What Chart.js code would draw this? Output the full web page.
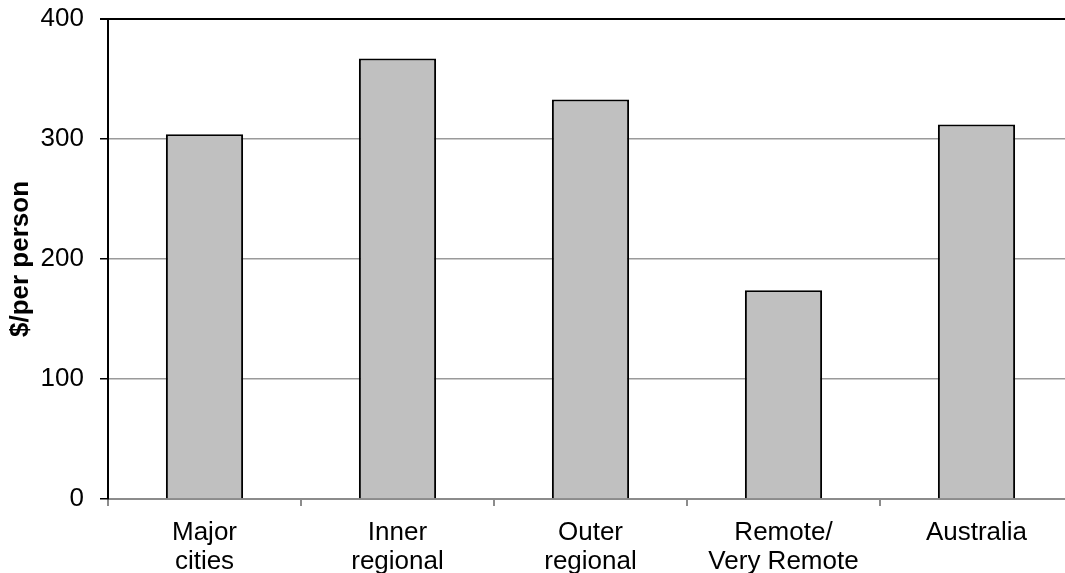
<!DOCTYPE html>
<html lang="en">
  <head>
    <meta charset="UTF-8" />
    <title>bar</title>
    <style>
      html, body { margin: 0; padding: 0; overflow: hidden; background: #fff; }
      .chart-view { width: 1073px; height: 573px; }
    </style>
  </head>
  <body>
    <div class="chart-view">
      <canvas id="chart" width="1073" height="573"></canvas>
    </div>

    <script src="https://cdn.jsdelivr.net/npm/chart.js@4.4.1/dist/chart.umd.min.js"></script>
    <script>
      //data
      const categories = [['Major', 'cities'], ['Inner', 'regional'], ['Outer', 'regional'], ['Remote/', 'Very Remote'], ['Australia']];
      const spendPerPerson = [304, 367, 333, 174, 312];
      const yTicks = [0, 100, 200, 300, 400];

      const font = { family: "'Liberation Sans', Arial, sans-serif", size: 26, lineHeight: 1.1 };

      //config
      const config = {
        type: 'bar',
        data: {
          labels: categories,
          datasets: [
            {
              label: '$/per person',
              data: spendPerPerson,
              backgroundColor: '#c0c0c0',
              borderColor: '#000',
              borderWidth: 2,
              barPercentage: 0.4,
              categoryPercentage: 1
            }
          ]
        },
        options: {
          responsive: false,
          animation: false,
          layout: { padding: { top: 19, right: 0, left: 0, bottom: 0 } },
          plugins: {
            legend: { display: false },
            tooltip: { enabled: false }
          },
          scales: {
            x: {
              grid: {
                offset: true,
                drawOnChartArea: false,
                color: '#8c8c8c',
                lineWidth: 2,
                tickLength: 7
              },
              border: { color: '#8c8c8c', width: 2 },
              ticks: { color: '#000', font: font, padding: 13, maxRotation: 0, autoSkip: false },
              afterFit: function (scale) {
                scale.height = 74;
                scale.paddingLeft = 0;
                scale.paddingRight = 0;
              }
            },
            y: {
              min: yTicks[0],
              max: yTicks[yTicks.length - 1],
              afterBuildTicks: function (scale) {
                scale.ticks = yTicks.map(function (v) { return { value: v }; });
              },
              grid: {
                color: function (ctx) { return ctx.tick && ctx.tick.value === 400 ? '#000' : '#9a9a9a'; },
                lineWidth: function (ctx) { return ctx.tick && ctx.tick.value === 400 ? 2 : 1.5; },
                tickColor: '#000',
                tickLength: 8
              },
              border: { color: '#000', width: 2 },
              ticks: { color: '#000', font: font, padding: 16 },
              title: {
                display: true,
                text: '$/per person',
                color: '#000',
                font: { family: "'Liberation Sans', Arial, sans-serif", size: 26, weight: 'bold' },
                padding: { top: 5, bottom: 0 }
              },
              afterFit: function (scale) {
                scale.width = 108;
                scale.paddingTop = 0;
                scale.paddingBottom = 0;
              }
            }
          }
        }
      };

      //init
      const ctx = document.getElementById('chart');
      const chart = new Chart(ctx, config);
    </script>
  </body>
</html>
